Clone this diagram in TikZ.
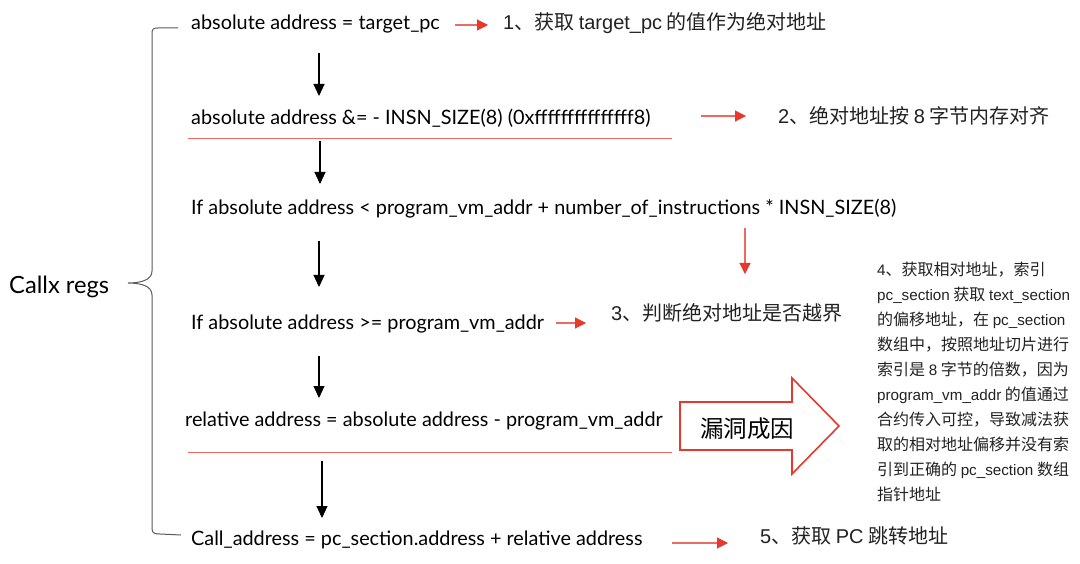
\documentclass[tikz,border=0pt]{standalone}
\usepackage{fontspec}
\setmainfont{Lato}
\newfontfamily\cjk{Noto Sans CJK SC}
\newfontfamily\latA{Liberation Sans}
\newfontfamily\latB[Scale=0.95]{Liberation Sans}
\newcommand\la[1]{{\latA #1}}
\newcommand\lb[1]{{\latB #1}}
\usetikzlibrary{arrows.meta}
\definecolor{redA}{HTML}{E5392B}
\definecolor{redL}{HTML}{EC6A61}
\definecolor{braceC}{HTML}{5A5A5A}
\definecolor{lblC}{HTML}{222222}
\newlength\rowwd
\newlength\callwd
\newcommand\rowfont{\fontsize{\rowfs pt}{\rowfs pt}\selectfont}
\newcommand\callfont{\fontsize{\callfs pt}{\callfs pt}\selectfont}
\begin{document}
\settowidth\rowwd{\normalfont\fontsize{10pt}{12pt}\selectfont If absolute address < program\_vm\_addr + number\_of\_instructions * INSN\_SIZE(8)}%
\pgfmathsetmacro\rowfs{10*705/\rowwd}%
\settowidth\callwd{\normalfont\fontsize{10pt}{12pt}\selectfont Callx regs}%
\pgfmathsetmacro\callfs{10*100/\callwd}%
\begin{tikzpicture}[x=1pt,y=-1pt,
  row/.style={anchor=west, inner sep=0pt, text height=0.72em, text depth=0pt, font=\rowfont, text=black},
  lbl/.style={anchor=west, inner sep=0pt, text height=0.76em, text depth=0pt, font={\cjk\fontsize{20pt}{20pt}\selectfont}, text=lblC},
  blk/.style={-{Triangle[length=12pt,width=11pt]}, line width=1.1pt, black},
  redarr/.style={-{Triangle[length=11pt,width=11pt,color=redA]}, line width=1.1pt, redL},
  redline/.style={line width=1pt, redL}]
\useasboundingbox[fill=white] (0,0) rectangle (1080,564);

% left label and brace
\node[anchor=west, inner sep=0pt, text height=0.72em, text depth=0pt, font=\callfont] (callx) at (9,290) {Callx regs};
\draw[braceC, line width=1pt] (178,28) -- (158,28) .. controls (153,28) and (152,29) .. (152,34)
  -- (152,271) .. controls (152,280) and (141,283) .. (128,283)
  .. controls (141,283) and (152,286) .. (152,295)
  -- (152,528) .. controls (152,533) and (154,534) .. (160,534) -- (181,535);

% rows
\node[row] (r1) at (191,26) {absolute address = target\_pc};
\node[row] (r2) at (191,121) {absolute address \&= - INSN\_SIZE(8) (0xfffffffffffffff8)};
\node[row] (r3) at (191,211) {If absolute address < program\_vm\_addr + number\_of\_instructions * INSN\_SIZE(8)};
\node[row] (r4) at (191,326) {If absolute address >= program\_vm\_addr};
\node[row] (r5) at (185,423) {relative address = absolute address - program\_vm\_addr};
\node[row] (r6) at (191,542) {Call\_address = pc\_section.address + relative address};

% red underlines
\coordinate (u2a) at (188,139); \coordinate (u2b) at (672,139);
\coordinate (u5a) at (188,452); \coordinate (u5b) at (672,452);
\draw[redline] (u2a) -- (u2b);
\draw[redline] (u5a) -- (u5b);

% black flow arrows
\coordinate (a1s) at (319,53);  \coordinate (a1e) at (319,96);
\coordinate (a2s) at (320,141); \coordinate (a2e) at (320,184);
\coordinate (a3s) at (319,241); \coordinate (a3e) at (319,287);
\coordinate (a4s) at (319,356); \coordinate (a4e) at (319,398);
\coordinate (a5s) at (322,461); \coordinate (a5e) at (322,518);
\draw[blk] (a1s) -- (a1e);
\draw[blk] (a2s) -- (a2e);
\draw[blk] (a3s) -- (a3e);
\draw[blk] (a4s) -- (a4e);
\draw[blk] (a5s) -- (a5e);

% explanation labels
\node[lbl] (l1) at (503,26) {\la{1}、获取 \la{target\_pc} 的值作为绝对地址};
\node[lbl] (l2) at (778,120) {\la{2}、绝对地址按 \la{8} 字节内存对齐};
\node[lbl] (l3) at (611,317) {\la{3}、判断绝对地址是否越界};
\node[lbl] (l5) at (760,540) {\la{5}、获取 \la{PC} 跳转地址};

% red arrows
\coordinate (b1s) at (455,25);  \coordinate (b1e) at (488,25);
\coordinate (b2s) at (701,116); \coordinate (b2e) at (746,116);
\coordinate (b3s) at (745,228); \coordinate (b3e) at (745,274);
\coordinate (b4s) at (556,323); \coordinate (b4e) at (586,323);
\coordinate (b5s) at (672,543); \coordinate (b5e) at (728,543);
\draw[redarr] (b1s) -- (b1e);
\draw[redarr] (b2s) -- (b2e);
\draw[redarr] (b3s) -- (b3e);
\draw[redarr] (b4s) -- (b4e);
\draw[redarr] (b5s) -- (b5e);

% big block arrow
\draw[redA, line width=1.6pt, fill=white, line join=miter]
  (680,402) -- (792,402) -- (792,378) -- (839,426) -- (792,474) -- (792,450) -- (680,450) -- cycle;
\node[inner sep=0pt, font={\cjk\fontsize{23.5pt}{23.5pt}\selectfont}, text=black] (cause) at (747,429) {漏洞成因};

% right explanation block
\node[anchor=north west, inner sep=0pt, align=left, text=lblC,
  font={\cjk\fontsize{16pt}{25pt}\selectfont}] (note) at (877,262)
  {\lb{4}、获取相对地址，索引\\
   \lb{pc\_section} 获取 \lb{text\_section}\\
   的偏移地址，在 \lb{pc\_section}\\
   数组中，按照地址切片进行\\
   索引是 \lb{8} 字节的倍数，因为\\
   \lb{program\_vm\_addr} 的值通过\\
   合约传入可控，导致减法获\\
   取的相对地址偏移并没有索\\
   引到正确的 \lb{pc\_section} 数组\\
   指针地址};
\end{tikzpicture}
\end{document}
